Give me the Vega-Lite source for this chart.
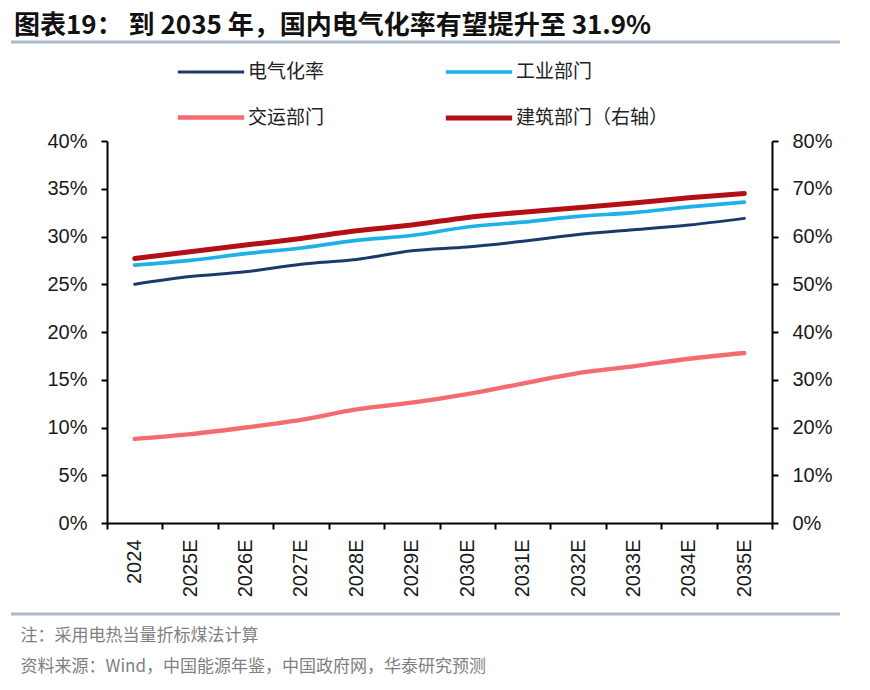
{
  "$schema": "https://vega.github.io/schema/vega-lite/v6.json",
  "width": 665,
  "height": 382,
  "autosize": {"type": "none"},
  "padding": {"left": 107, "top": 141, "right": 98, "bottom": 167},
  "background": "white",
  "config": {
    "view": {"stroke": null},
    "axis": {
      "grid": false,
      "domainColor": "#000000",
      "domainWidth": 2,
      "tickColor": "#000000",
      "tickWidth": 2,
      "tickSize": 6,
      "labelFont": "Liberation Sans",
      "labelFontSize": 20,
      "labelColor": "#1a1a1a"
    }
  },
  "title": {
    "text": "图表19：  到 2035 年，国内电气化率有望提升至 31.9%",
    "anchor": "start",
    "frame": "group",
    "dx": -93,
    "offset": 20,
    "dy": 22,
    "font": "Noto Sans CJK SC",
    "fontSize": 26,
    "fontWeight": "bold",
    "color": "#111111"
  },
  "datasets": {
    "rates": [
      {"year": "2024", "series": "电气化率", "value": 25.0},
      {"year": "2025E", "series": "电气化率", "value": 25.8},
      {"year": "2026E", "series": "电气化率", "value": 26.3},
      {"year": "2027E", "series": "电气化率", "value": 27.1},
      {"year": "2028E", "series": "电气化率", "value": 27.6},
      {"year": "2029E", "series": "电气化率", "value": 28.5},
      {"year": "2030E", "series": "电气化率", "value": 28.9},
      {"year": "2031E", "series": "电气化率", "value": 29.5},
      {"year": "2032E", "series": "电气化率", "value": 30.2},
      {"year": "2033E", "series": "电气化率", "value": 30.7},
      {"year": "2034E", "series": "电气化率", "value": 31.2},
      {"year": "2035E", "series": "电气化率", "value": 31.9},
      {"year": "2024", "series": "工业部门", "value": 27.0},
      {"year": "2025E", "series": "工业部门", "value": 27.5},
      {"year": "2026E", "series": "工业部门", "value": 28.2},
      {"year": "2027E", "series": "工业部门", "value": 28.8},
      {"year": "2028E", "series": "工业部门", "value": 29.6},
      {"year": "2029E", "series": "工业部门", "value": 30.1},
      {"year": "2030E", "series": "工业部门", "value": 31.0},
      {"year": "2031E", "series": "工业部门", "value": 31.5},
      {"year": "2032E", "series": "工业部门", "value": 32.1},
      {"year": "2033E", "series": "工业部门", "value": 32.5},
      {"year": "2034E", "series": "工业部门", "value": 33.1},
      {"year": "2035E", "series": "工业部门", "value": 33.6},
      {"year": "2024", "series": "交运部门", "value": 8.8},
      {"year": "2025E", "series": "交运部门", "value": 9.3},
      {"year": "2026E", "series": "交运部门", "value": 10.0},
      {"year": "2027E", "series": "交运部门", "value": 10.8},
      {"year": "2028E", "series": "交运部门", "value": 11.9},
      {"year": "2029E", "series": "交运部门", "value": 12.6},
      {"year": "2030E", "series": "交运部门", "value": 13.5},
      {"year": "2031E", "series": "交运部门", "value": 14.6},
      {"year": "2032E", "series": "交运部门", "value": 15.7},
      {"year": "2033E", "series": "交运部门", "value": 16.4},
      {"year": "2034E", "series": "交运部门", "value": 17.2},
      {"year": "2035E", "series": "交运部门", "value": 17.8},
      {"year": "2024", "series": "建筑部门（右轴）", "value": 55.4},
      {"year": "2025E", "series": "建筑部门（右轴）", "value": 56.8},
      {"year": "2026E", "series": "建筑部门（右轴）", "value": 58.2},
      {"year": "2027E", "series": "建筑部门（右轴）", "value": 59.6},
      {"year": "2028E", "series": "建筑部门（右轴）", "value": 61.2},
      {"year": "2029E", "series": "建筑部门（右轴）", "value": 62.4},
      {"year": "2030E", "series": "建筑部门（右轴）", "value": 64.0},
      {"year": "2031E", "series": "建筑部门（右轴）", "value": 65.1},
      {"year": "2032E", "series": "建筑部门（右轴）", "value": 66.0},
      {"year": "2033E", "series": "建筑部门（右轴）", "value": 67.0},
      {"year": "2034E", "series": "建筑部门（右轴）", "value": 68.1},
      {"year": "2035E", "series": "建筑部门（右轴）", "value": 69.0}
    ]
  },
  "layer": [
    {
      "data": {"values": [{}]},
      "mark": {"type": "rule", "color": "#a9b9cb", "strokeWidth": 3},
      "encoding": {
        "x": {"value": -96},
        "x2": {"value": 733},
        "y": {"value": -99}
      }
    },
    {
      "data": {"values": [{}]},
      "mark": {"type": "rule", "color": "#a9b9cb", "strokeWidth": 3},
      "encoding": {
        "x": {"value": -96},
        "x2": {"value": 733},
        "y": {"value": 473}
      }
    },
    {
      "data": {"name": "rates"},
      "transform": [{"filter": "datum.series !== '建筑部门（右轴）'"}],
      "mark": {"type": "line", "interpolate": "monotone", "strokeCap": "round"},
      "encoding": {
        "x": {
          "field": "year",
          "type": "ordinal",
          "sort": null,
          "bandPosition": 0.5,
          "scale": {"type": "band", "paddingInner": 0, "paddingOuter": 0},
          "axis": {
            "labelAngle": 270,
            "labelPadding": 10,
            "tickBand": "extent",
            "title": ["注：采用电热当量折标煤法计算", "资料来源：Wind，中国能源年鉴，中国政府网，华泰研究预测"],
            "titleX": -87,
            "titleY": 104,
            "titleAlign": "left",
            "titleBaseline": "top",
            "titleAngle": 0,
            "titleLineHeight": 31,
            "titleFont": "Noto Sans CJK SC",
            "titleFontSize": 17,
            "titleFontWeight": "normal",
            "titleColor": "#808080"
          }
        },
        "y": {
          "field": "value",
          "type": "quantitative",
          "scale": {"domain": [0, 40], "nice": false},
          "axis": {
            "orient": "left",
            "values": [0, 5, 10, 15, 20, 25, 30, 35, 40],
            "labelExpr": "datum.value + '%'",
            "labelPadding": 14,
            "title": null
          }
        },
        "color": {
          "field": "series",
          "type": "nominal",
          "scale": {
            "domain": ["电气化率", "工业部门", "交运部门", "建筑部门（右轴）"],
            "range": ["#1b3a6b", "#1cb1e8", "#f56b6f", "#b40f14"]
          },
          "legend": {
            "title": null,
            "orient": "none",
            "legendX": 68,
            "legendY": -104,
            "direction": "horizontal",
            "columns": 2,
            "columnPadding": 110,
            "rowPadding": -2,
            "symbolType": "stroke",
            "symbolSize": 4400,
            "symbolStrokeWidth": 5,
            "labelFont": "Noto Sans CJK SC",
            "labelFontSize": 19,
            "labelColor": "#222222",
            "labelOffset": 1
          }
        },
        "strokeWidth": {
          "field": "series",
          "type": "nominal",
          "scale": {
            "domain": ["电气化率", "工业部门", "交运部门", "建筑部门（右轴）"],
            "range": [3, 5, 5, 5]
          },
          "legend": null
        }
      }
    },
    {
      "data": {"name": "rates"},
      "transform": [{"filter": "datum.series === '建筑部门（右轴）'"}],
      "mark": {"type": "line", "interpolate": "monotone", "strokeCap": "round"},
      "encoding": {
        "x": {
          "field": "year",
          "type": "ordinal",
          "sort": null,
          "bandPosition": 0.5
        },
        "y": {
          "field": "value",
          "type": "quantitative",
          "scale": {"domain": [0, 80], "nice": false},
          "axis": {
            "orient": "right",
            "values": [0, 10, 20, 30, 40, 50, 60, 70, 80],
            "labelExpr": "datum.value + '%'",
            "labelPadding": 14,
            "title": null
          }
        },
        "color": {"field": "series", "type": "nominal"},
        "strokeWidth": {"field": "series", "type": "nominal", "legend": null}
      }
    }
  ],
  "resolve": {"scale": {"y": "independent"}}
}
